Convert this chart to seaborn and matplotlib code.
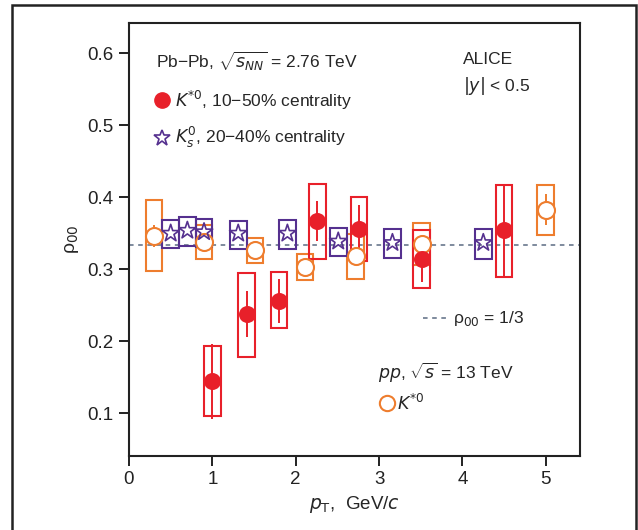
import matplotlib
matplotlib.use("Agg")
import matplotlib.pyplot as plt
from matplotlib.patches import Rectangle
import seaborn as sns
import pandas as pd

# ---- data ----
pb_pt = [1.00, 1.41, 1.80, 2.26, 2.76, 3.51, 4.50]
pb_rho = [0.145, 0.238, 0.256, 0.367, 0.356, 0.314, 0.354]
pb_stat = [0.052, 0.032, 0.031, 0.028, 0.033, 0.032, 0.063]
pb_sys_lo = [0.096, 0.178, 0.218, 0.314, 0.311, 0.274, 0.290]
pb_sys_hi = [0.194, 0.295, 0.297, 0.419, 0.401, 0.354, 0.417]

ks_pt = [0.50, 0.70, 0.90, 1.31, 1.90, 2.51, 3.16, 4.25]
ks_rho = [0.350, 0.354, 0.352, 0.350, 0.350, 0.339, 0.337, 0.337]
ks_sys_lo = [0.330, 0.333, 0.331, 0.328, 0.329, 0.319, 0.316, 0.314]
ks_sys_hi = [0.369, 0.373, 0.370, 0.367, 0.368, 0.358, 0.356, 0.356]

pp_pt = [0.30, 0.90, 1.51, 2.11, 2.72, 3.51, 5.00]
pp_rho = [0.346, 0.338, 0.327, 0.303, 0.318, 0.335, 0.383]
pp_stat = [0.015, 0.008, 0.006, 0.006, 0.008, 0.010, 0.021]
pp_sys_lo = [0.298, 0.314, 0.309, 0.285, 0.287, 0.306, 0.348]
pp_sys_hi = [0.396, 0.362, 0.343, 0.322, 0.349, 0.364, 0.417]

x_ticks = [0, 1, 2, 3, 4, 5]
y_ticks = [0.1, 0.2, 0.3, 0.4, 0.5, 0.6]

RED = "#e8202a"
ORANGE = "#ee7d2e"
PURPLE = "#55308f"
DASH = "#5b6b82"

sns.set_theme(style="ticks")
FONT = ["Liberation Sans Narrow", "Liberation Sans", "DejaVu Sans"]
plt.rcParams["font.family"] = FONT
plt.rcParams["mathtext.fontset"] = "custom"
plt.rcParams["mathtext.rm"] = "Liberation Sans Narrow"
plt.rcParams["mathtext.it"] = "Liberation Sans Narrow:italic"

fig = plt.figure(figsize=(6.38, 5.30), dpi=100)
ax = fig.add_axes([129/638, 1-456/530, (580-129)/638, (456-23)/530])

# outer frame
fig.patches.append(Rectangle((12/638, -0.05), (636-12)/638, 1.05-5/530,
                             transform=fig.transFigure, fill=False,
                             edgecolor="#222222", linewidth=1.8))

ax.axhline(1/3, color=DASH, ls=(0, (3, 3)), lw=1.1, zorder=1)

def boxes(xs, lo, hi, color, w=0.2):
    for x, l, h in zip(xs, lo, hi):
        ax.add_patch(Rectangle((x - w/2, l), w, h - l, fill=False,
                               edgecolor=color, lw=1.5, zorder=2))

boxes(pp_pt, pp_sys_lo, pp_sys_hi, ORANGE)
boxes(ks_pt, ks_sys_lo, ks_sys_hi, PURPLE)
boxes(pb_pt, pb_sys_lo, pb_sys_hi, RED)

ax.errorbar(pp_pt, pp_rho, yerr=pp_stat, fmt="none", ecolor=ORANGE, elinewidth=1.4, zorder=3)
ax.errorbar(pb_pt, pb_rho, yerr=pb_stat, fmt="none", ecolor=RED, elinewidth=1.4, zorder=4)

df_pp = pd.DataFrame({"pt": pp_pt, "rho": pp_rho})
df_pb = pd.DataFrame({"pt": pb_pt, "rho": pb_rho})
df_ks = pd.DataFrame({"pt": ks_pt, "rho": ks_rho})

sns.scatterplot(data=df_pp, x="pt", y="rho", ax=ax, marker="o", s=150,
                facecolor="white", edgecolor=ORANGE, linewidth=1.5, zorder=5)
sns.scatterplot(data=df_ks, x="pt", y="rho", ax=ax, marker="*", s=170,
                facecolor="none", edgecolor=PURPLE, linewidth=1.2, zorder=5)
sns.scatterplot(data=df_pb, x="pt", y="rho", ax=ax, marker="o", s=150,
                color=RED, edgecolor=RED, linewidth=0, zorder=6)

ax.set_xlim(0, 5.41)
ax.set_ylim(0.041, 0.642)
ax.set_xticks(x_ticks)
ax.set_xticklabels([str(t) for t in x_ticks])
ax.set_yticks(y_ticks)
ax.set_yticklabels([f"{t:.1f}" for t in y_ticks])
ax.tick_params(direction="out", length=7, width=1.4, labelsize=13.5, colors="#222222", pad=4)
for s in ax.spines.values():
    s.set_linewidth(1.5)
    s.set_color("#222222")
    s.set_visible(True)

ax.set_xlabel(r"$p_{\mathrm{T}}$,  GeV/$c$", fontsize=13.5, labelpad=4)
ax.set_ylabel("ρ$_{00}$", fontsize=14, labelpad=5)

fs = 12.5
ax.text(0.324, 0.588, r"Pb−Pb, $\sqrt{s_{NN}}$ = 2.76 TeV", fontsize=fs, va="center", ha="left")
ax.plot([0.40], [0.535], "o", color=RED, ms=11)
ax.text(0.55, 0.535, r"$K^{*0}$, 10−50% centrality", fontsize=fs, va="center", ha="left")
ax.plot([0.40], [0.483], "*", mfc="none", mec=PURPLE, ms=12, mew=1.2)
ax.text(0.55, 0.483, r"$K^0_s$, 20−40% centrality", fontsize=fs, va="center", ha="left")
ax.text(4.01, 0.591, "ALICE", fontsize=fs, va="center", ha="left")
ax.text(4.01, 0.554, r"$|y|$ < 0.5", fontsize=fs, va="center", ha="left")
ax.plot([3.53, 3.84], [0.233, 0.233], color=DASH, ls=(0, (3, 3)), lw=1.1)
ax.text(3.885, 0.232, "ρ$_{00}$ = 1/3", fontsize=fs, va="center", ha="left")
ax.text(2.99, 0.156, r"$pp$, $\sqrt{s}$ = 13 TeV", fontsize=fs, va="center", ha="left")
ax.plot([3.09], [0.115], "o", mfc="white", mec=ORANGE, ms=11, mew=1.5)
ax.text(3.21, 0.115, r"$K^{*0}$", fontsize=fs, va="center", ha="left")

fig.savefig("out.png", dpi=100)
